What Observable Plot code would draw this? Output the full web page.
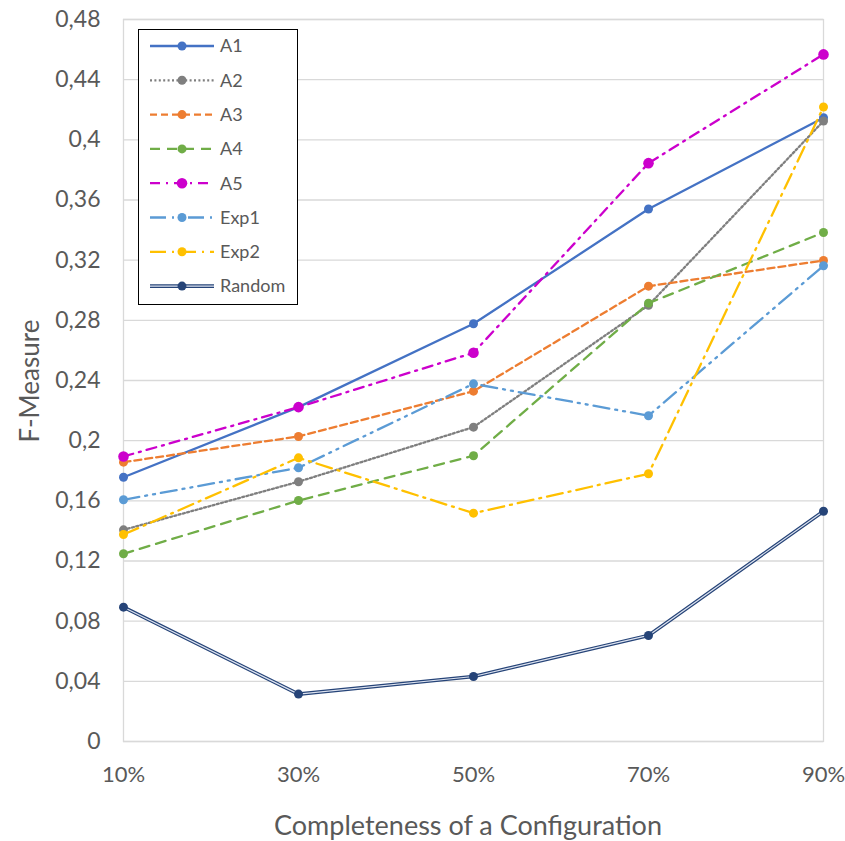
<!DOCTYPE html>
<html><head><meta charset="utf-8">
<script src="https://cdn.jsdelivr.net/npm/d3@7"></script>
<script src="https://cdn.jsdelivr.net/npm/@observablehq/plot@0.6"></script>
<style>body{margin:0;background:#fff}#chart{position:relative;width:845px;height:841px}</style>
</head><body><div id="chart"></div>
<script>
const categories = ["10%", "30%", "50%", "70%", "90%"];
const A1 = [0.1757, 0.2223, 0.2777, 0.354, 0.4147];
const A2 = [0.1407, 0.1727, 0.209, 0.290, 0.4125];
const A3 = [0.1857, 0.2028, 0.2329, 0.3027, 0.3198];
const A4 = [0.1248, 0.1602, 0.19, 0.2914, 0.3384];
const A5 = [0.1895, 0.2223, 0.2584, 0.3845, 0.4568];
const Exp1 = [0.1607, 0.182, 0.2378, 0.2166, 0.3163];
const Exp2 = [0.1376, 0.1886, 0.1518, 0.178, 0.4218];
const Random = [0.0893, 0.0315, 0.0432, 0.0705, 0.1531];
const yTicks = [0, 0.04, 0.08, 0.12, 0.16, 0.2, 0.24, 0.28, 0.32, 0.36, 0.4, 0.44, 0.48];
const seriesNames = ["A1", "A2", "A3", "A4", "A5", "Exp1", "Exp2", "Random"];
const seriesValues = [A1, A2, A3, A4, A5, Exp1, Exp2, Random];
const xTitle = "Completeness of a Configuration";
const yTitle = "F-Measure";

// styles
const styles = {
  A1: {color: "#4472C4", dash: null, r: 4.5},
  A2: {color: "#7F7F7F", dash: "2,2.4", r: 4.5},
  A3: {color: "#ED7D31", dash: "7,4", r: 4.5},
  A4: {color: "#70AD47", dash: "10,7", r: 4.5},
  A5: {color: "#CC00CC", dash: "10,6,2,6", r: 5.3},
  Exp1: {color: "#5B9BD5", dash: "16,6,2,6,2,6", r: 4.5},
  Exp2: {color: "#FFC000", dash: "16,6,2,6", r: 4.5},
  Random: {color: "#264478", dash: null, r: 4.5, double: true}
};

const FONT = "Lato, 'Open Sans', sans-serif";
const fmt = d => String(d).replace(".", ",");

const marks = [
  Plot.gridY(yTicks, {stroke: "#d9d9d9", strokeOpacity: 1, strokeWidth: 1.3}),
  Plot.frame({stroke: "#d9d9d9", strokeWidth: 1.3}),
  Plot.axisY(yTicks, {tickSize: 0, tickPadding: 23, tickFormat: fmt, fontSize: 23, color: "#595959", label: null}),
  Plot.axisX(categories, {tickSize: 0, tickPadding: 25, fontSize: 22, color: "#595959", label: null})
];

seriesNames.forEach((name, i) => {
  const s = styles[name];
  const data = categories.map((c, j) => ({x: c, y: seriesValues[i][j]}));
  if (s.double) {
    marks.push(Plot.line(data, {x: "x", y: "y", stroke: s.color, strokeWidth: 3.6}));
    marks.push(Plot.line(data, {x: "x", y: "y", stroke: "#dde3f0", strokeWidth: 1.2}));
  } else {
    marks.push(Plot.line(data, {x: "x", y: "y", stroke: s.color, strokeWidth: 2.3, strokeDasharray: s.dash || undefined}));
  }
  marks.push(Plot.dot(data, {x: "x", y: "y", fill: s.color, r: s.r}));
});

const chart = Plot.plot({
  width: 845,
  height: 841,
  marginLeft: 123,
  marginRight: 22,
  marginTop: 19,
  marginBottom: 100,
  style: {fontFamily: FONT, background: "#fff", overflow: "visible"},
  x: {type: "point", domain: categories, padding: 0, inset: 0},
  y: {domain: [0, 0.48], inset: 0},
  marks
});
document.getElementById("chart").appendChild(chart);

const svg = d3.select(chart);
svg.append("text").text(xTitle)
  .attr("x", 468).attr("y", 835).attr("text-anchor", "middle")
  .attr("font-family", FONT).attr("font-size", 27).attr("fill", "#595959");
svg.append("text").text(yTitle)
  .attr("transform", "translate(39,381) rotate(-90)").attr("text-anchor", "middle")
  .attr("font-family", FONT).attr("font-size", 26).attr("fill", "#595959");

// legend
const lg = svg.append("g");
lg.append("rect").attr("x", 138.5).attr("y", 29.5).attr("width", 159).attr("height", 275)
  .attr("fill", "#fff").attr("stroke", "#000").attr("stroke-width", 1);
seriesNames.forEach((name, i) => {
  const s = styles[name];
  const yy = 46 + i * 34.3;
  if (s.double) {
    lg.append("line").attr("x1", 150).attr("x2", 214).attr("y1", yy).attr("y2", yy)
      .attr("stroke", s.color).attr("stroke-width", 3.6);
    lg.append("line").attr("x1", 150).attr("x2", 214).attr("y1", yy).attr("y2", yy)
      .attr("stroke", "#dde3f0").attr("stroke-width", 1.2);
  } else {
    lg.append("line").attr("x1", 150).attr("x2", 214).attr("y1", yy).attr("y2", yy)
      .attr("stroke", s.color).attr("stroke-width", 2.3).attr("stroke-dasharray", s.dash);
  }
  lg.append("circle").attr("cx", 182).attr("cy", yy).attr("r", s.r).attr("fill", s.color);
  lg.append("text").text(name).attr("x", 220).attr("y", yy).attr("dy", "0.35em")
    .attr("text-anchor", "start")
    .attr("font-family", FONT).attr("font-size", 18).attr("fill", "#595959");
});
</script>
</body></html>
